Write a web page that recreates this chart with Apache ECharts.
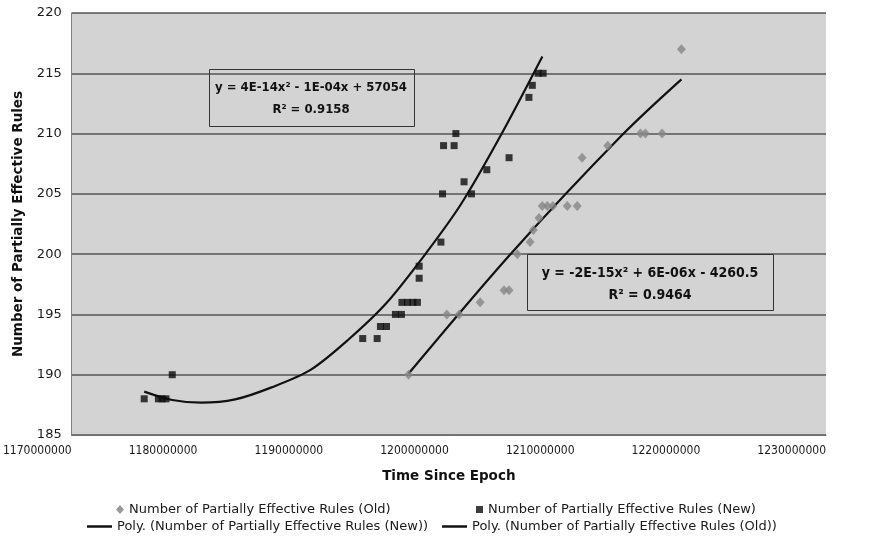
<!DOCTYPE html>
<html>
<head>
<meta charset="utf-8">
<script src="https://cdn.jsdelivr.net/npm/echarts@6/dist/echarts.min.js"></script>
<style>
html,body{margin:0;padding:0;background:#fff;}
#chart{width:871px;height:539px;}
</style>
</head>
<body>
<div id="chart"></div>
<script>
// ---- Data ----
const oldX = [1196.8e6, 1199.84e6, 1200.82e6, 1202.49e6, 1204.39e6, 1204.79e6, 1205.45e6, 1206.46e6, 1206.72e6, 1207.17e6,
              1207.43e6, 1207.83e6, 1208.27e6, 1209.42e6, 1210.21e6, 1210.6e6, 1212.64e6, 1215.24e6, 1215.63e6, 1216.96e6, 1218.5e6];
const oldY = [190, 195, 195, 196, 197, 197, 200, 201, 202, 203,
              204, 204, 204, 204, 204, 208, 209, 210, 210, 210, 217];

const newX = [1175.77e6, 1176.9e6, 1177.2e6, 1177.5e6, 1178.0e6, 1193.15e6, 1194.3e6, 1194.56e6, 1195.04e6, 1195.75e6,
              1196.23e6, 1196.27e6, 1196.71e6, 1197.14e6, 1197.5e6, 1197.64e6, 1197.64e6, 1199.37e6, 1199.5e6, 1199.58e6,
              1200.42e6, 1200.56e6, 1201.21e6, 1201.8e6, 1203.02e6, 1204.79e6, 1206.37e6, 1206.64e6, 1207.1e6, 1207.5e6];
const newY = [188, 188, 188, 188, 190, 193, 193, 194, 194, 195,
              195, 196, 196, 196, 196, 198, 199, 201, 205, 209,
              209, 210, 206, 205, 207, 208, 213, 214, 215, 215];

// Trend lines
const polyNewX = [1175.77e6, 1178e6, 1180.3e6, 1183e6, 1185.9e6, 1189e6, 1192e6, 1195e6, 1198.2e6, 1201e6, 1204.1e6, 1207.44e6];
const polyNewY = [188.6, 187.9, 187.68, 187.95, 188.95, 190.4, 192.9, 195.9, 200.1, 204.2, 209.8, 216.4];
const polyOldX = [1196.8e6, 1204.9e6, 1213.9e6, 1218.5e6];
const polyOldY = [190.1, 200, 210, 214.5];

const xTicks = {min: 1170000000, max: 1230000000, interval: 10000000};
const yTicks = {min: 185, max: 220, interval: 5};

const names = {
  old: 'Number of Partially Effective Rules (Old)',
  nw: 'Number of Partially Effective Rules (New)',
  polyNew: 'Poly. (Number of Partially Effective Rules (New))',
  polyOld: 'Poly. (Number of Partially Effective Rules (Old))'
};
const eq1 = ['y = 4E-14x\u00B2 - 1E-04x + 57054', 'R\u00B2 = 0.9158'];
const eq2 = ['y = -2E-15x\u00B2 + 6E-06x - 4260.5', 'R\u00B2 = 0.9464'];

const zip = (a, b) => a.map((v, i) => [v, b[i]]);

const chart = echarts.init(document.getElementById('chart'), null, {renderer: 'canvas'});
const legendFont = {fontFamily: '"DejaVu Sans", sans-serif', fontSize: 13, color: '#1a1a1a'};
const eqFont = '"DejaVu Sans Condensed", "DejaVu Sans", sans-serif';

chart.setOption({
  backgroundColor: '#ffffff',
  animation: false,
  grid: {left: 70, right: 45, top: 13, bottom: 104, show: true, backgroundColor: '#d3d3d3', borderWidth: 0},
  xAxis: {
    type: 'value', min: xTicks.min, max: xTicks.max, interval: xTicks.interval,
    name: 'Time Since Epoch', nameLocation: 'middle', nameGap: 34,
    nameTextStyle: {fontFamily: '"DejaVu Sans", sans-serif', fontWeight: 'bold', fontSize: 13.5, color: '#111'},
    axisLine: {show: true, onZero: false, lineStyle: {color: '#707070', width: 1}},
    axisTick: {show: false},
    splitLine: {show: false},
    axisLabel: {formatter: v => String(v), align: 'right', margin: 10,
      fontFamily: '"DejaVu Sans Condensed", "DejaVu Sans", sans-serif', fontSize: 12, color: '#1a1a1a'}
  },
  yAxis: {
    type: 'value', min: yTicks.min, max: yTicks.max, interval: yTicks.interval,
    name: 'Number of Partially Effective Rules', nameLocation: 'middle', nameGap: 45, nameRotate: 90,
    nameTextStyle: {fontFamily: '"DejaVu Sans", sans-serif', fontWeight: 'bold', fontSize: 13.5, color: '#111'},
    axisLine: {show: true, lineStyle: {color: '#808080', width: 1}},
    axisTick: {show: false},
    splitLine: {show: true, lineStyle: {color: '#555555', width: 1.5}},
    axisLabel: {margin: 10, fontFamily: '"DejaVu Sans", sans-serif', fontSize: 13, color: '#1a1a1a'}
  },
  legend: [
    {data: [{name: names.old, icon: 'diamond'}], left: 116, top: 503, padding: 0, itemWidth: 8, itemHeight: 9, textStyle: legendFont, itemStyle: {color: '#7f7f7f'}},
    {data: [{name: names.nw, icon: 'rect'}], left: 476, top: 503, padding: 0, itemWidth: 7, itemHeight: 7, textStyle: legendFont},
    {data: [{name: names.polyNew, icon: 'rect'}], left: 87, top: 520, padding: 0, itemWidth: 25, itemHeight: 2.5, textStyle: legendFont},
    {data: [{name: names.polyOld, icon: 'rect'}], left: 442, top: 520, padding: 0, itemWidth: 25, itemHeight: 2.5, textStyle: legendFont}
  ],
  series: [
    {name: names.polyNew, type: 'line', data: zip(polyNewX, polyNewY), smooth: 0.3, showSymbol: false,
     lineStyle: {color: '#111', width: 2.2}, itemStyle: {color: '#111'}, z: 3},
    {name: names.polyOld, type: 'line', data: zip(polyOldX, polyOldY), smooth: 0.3, showSymbol: false,
     lineStyle: {color: '#111', width: 2.2}, itemStyle: {color: '#111'}, z: 3},
    {name: names.old, type: 'scatter', data: zip(oldX, oldY), symbol: 'diamond', symbolSize: [9, 10],
     itemStyle: {color: '#868686'}, z: 4},
    {name: names.nw, type: 'scatter', data: zip(newX, newY), symbol: 'rect', symbolSize: 7,
     itemStyle: {color: '#0d0d0d'}, z: 5}
  ],
  graphic: [
    {type: 'rect', shape: {x: 209.5, y: 69.5, width: 205, height: 57}, style: {fill: 'rgba(0,0,0,0)', stroke: '#333', lineWidth: 1}, z: 10},
    {type: 'text', x: 311, y: 88, style: {text: eq1[0], align: 'center', verticalAlign: 'middle', font: 'bold 13px ' + eqFont, fill: '#111'}, z: 10},
    {type: 'text', x: 311, y: 110, style: {text: eq1[1], align: 'center', verticalAlign: 'middle', font: 'bold 13px ' + eqFont, fill: '#111'}, z: 10},
    {type: 'rect', shape: {x: 527.5, y: 254.5, width: 246, height: 56}, style: {fill: 'rgba(0,0,0,0)', stroke: '#333', lineWidth: 1}, z: 10},
    {type: 'text', x: 650, y: 273, style: {text: eq2[0], align: 'center', verticalAlign: 'middle', font: 'bold 14px ' + eqFont, fill: '#111'}, z: 10},
    {type: 'text', x: 650, y: 295, style: {text: eq2[1], align: 'center', verticalAlign: 'middle', font: 'bold 14px ' + eqFont, fill: '#111'}, z: 10}
  ]
});
</script>
</body>
</html>
